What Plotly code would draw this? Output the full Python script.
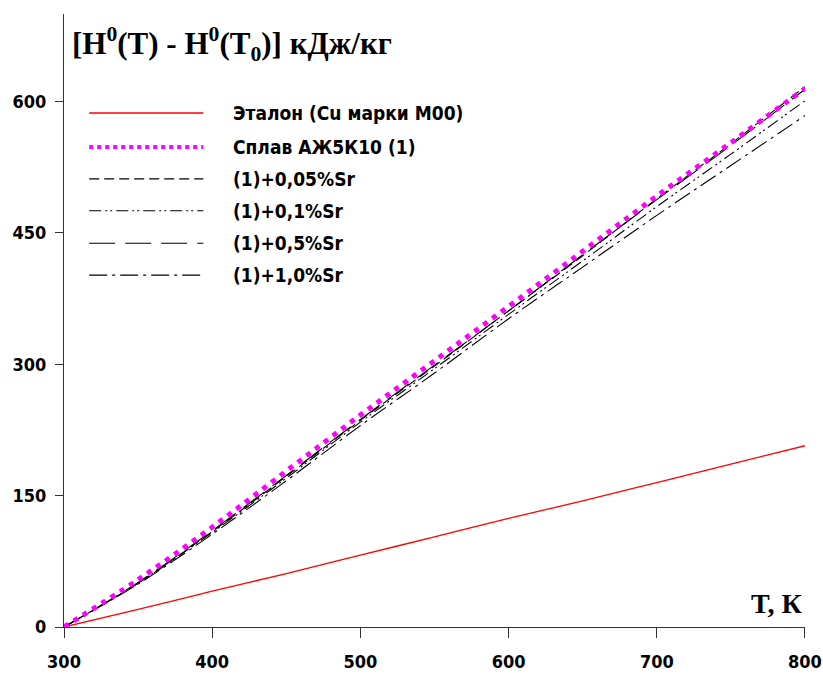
import plotly.graph_objects as go

# Temperature grid, K
T = [300, 350, 400, 450, 500, 550, 600, 650, 700, 750, 800]

# Enthalpy increment H0(T) - H0(T0), kJ/kg
h_cu = [0, 20, 41, 61, 82, 103, 124, 144, 165, 186, 207]
h_base = [0, 54, 114, 178, 242, 304, 366, 429, 492, 553, 615]
h_sr005 = [0, 50, 109, 172, 236, 298, 361, 424, 489, 552, 617]
h_sr01 = [0, 50, 108, 170, 234, 295, 357, 418, 480, 540, 601]
h_sr05 = [0, 51, 110, 173, 237, 299, 361, 425, 488, 550, 614]
h_sr10 = [0, 49, 106, 167, 230, 290, 352, 411, 470, 527, 584]

labels = ["Эталон (Cu марки M00)", "Сплав АЖ5К10 (1)", "(1)+0,05%Sr",
          "(1)+0,1%Sr", "(1)+0,5%Sr", "(1)+1,0%Sr"]

x_ticks = [300, 400, 500, 600, 700, 800]
y_ticks = [0, 150, 300, 450, 600]

styles = [
    dict(color="#ff0000", width=1.3, dash="solid"),
    dict(color="#ff00ff", width=5, dash="5px,6px"),
    dict(color="#000000", width=1.1, dash="10px,5px"),
    dict(color="#000000", width=1.1, dash="12px,4px,2px,3px,2px,4px"),
    dict(color="#000000", width=1.1, dash="26px,10px"),
    dict(color="#000000", width=1.1, dash="18px,5px,3px,5px"),
]
series = [h_cu, h_base, h_sr005, h_sr01, h_sr05, h_sr10]

fig = go.Figure()
# black curves first, magenta dots on top
order = [0, 2, 3, 4, 5, 1]
for i in order:
    fig.add_trace(go.Scatter(x=T, y=series[i], mode="lines", name=labels[i],
                             line=dict(**styles[i], shape="spline"),
                             showlegend=False, hoverinfo="skip"))

narrow = "DejaVu Sans Condensed, Liberation Sans Narrow, Arial Narrow, Liberation Sans, sans-serif"
tick_font = dict(family=narrow, size=18, color="#000000", weight="bold")

fig.update_layout(
    width=823, height=673,
    margin=dict(l=64, r=18, t=14, b=46, autoexpand=False),
    plot_bgcolor="white", paper_bgcolor="white",
    xaxis=dict(range=[299.99, 800.01], tickvals=x_ticks, showgrid=False, zeroline=False,
               showline=True, linecolor="#333333", linewidth=1.2, automargin=False,
               ticks="outside", ticklen=10, tickcolor="#333333", tickwidth=1.2,
               tickfont=tick_font, ticklabelstandoff=8, ticklabeloverflow="allow"),
    yaxis=dict(range=[0, 700], tickvals=y_ticks, showgrid=False, zeroline=False,
               showline=True, linecolor="#333333", linewidth=1.2, automargin=False,
               ticks="outside", ticklen=8, tickcolor="#333333", tickwidth=1.2,
               tickfont=tick_font, ticklabelstandoff=5),
)

# Axis captions
fig.add_annotation(xref="paper", yref="paper", x=0.008, y=0.912, xanchor="left", yanchor="bottom",
                   text="<b>[H<sup>0</sup>(T) - H<sup>0</sup>(T<sub>0</sub>)] кДж/кг</b>", showarrow=False,
                   font=dict(family="Liberation Serif, Times New Roman, serif", size=31, color="#000000"))
fig.add_annotation(xref="paper", yref="paper", x=1.0, y=0.038, xanchor="right", yanchor="middle",
                   text="<b>T, К</b>", showarrow=False,
                   font=dict(family="Liberation Serif, Times New Roman, serif", size=28, color="#000000"))

# Legend drawn with long line samples
leg_x0, leg_x1, leg_tx = 0.034, 0.188, 0.2254
leg_y = [0.8385, 0.783, 0.731, 0.679, 0.626, 0.574]
leg_font = dict(family=narrow, size=19, color="#000000")
for i, lab in enumerate(labels):
    st = styles[i]
    w = 1.5 if i == 0 else (4 if i == 1 else 1.2)
    dash = "4px,4px" if i == 1 else st["dash"]
    fig.add_shape(type="line", xref="paper", yref="paper",
                  x0=leg_x0, x1=leg_x1, y0=leg_y[i], y1=leg_y[i],
                  line=dict(color=st["color"], width=w, dash=dash))
    fig.add_annotation(xref="paper", yref="paper", x=leg_tx, y=leg_y[i],
                       xanchor="left", yanchor="middle", text="<b>" + lab + "</b>",
                       showarrow=False, font=leg_font)

fig.write_html("out.html")
